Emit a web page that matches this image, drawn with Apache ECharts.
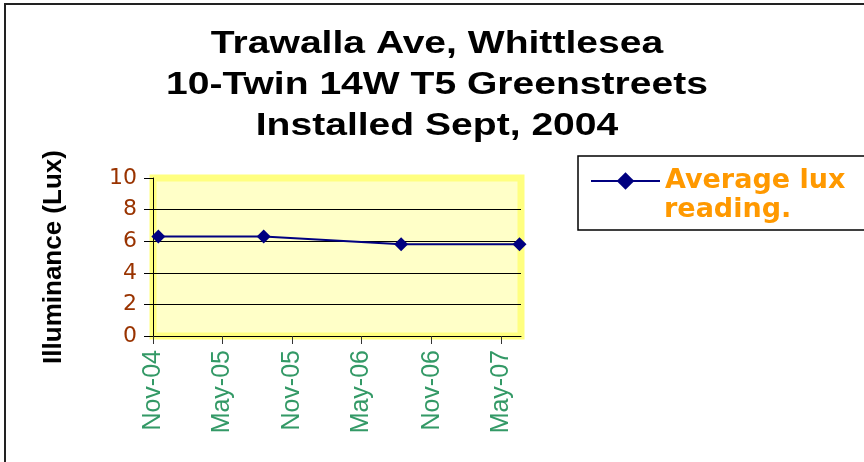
<!DOCTYPE html>
<html>
<head>
    <meta charset="utf-8">
    <title>Trawalla Ave, Whittlesea</title>
    <style>
        html, body { margin: 0; padding: 0; background: #fff; }
        #main { width: 864px; height: 462px; }
    </style>
</head>
<body>
<div id="main"></div>
<script src="https://cdn.jsdelivr.net/npm/echarts@6/dist/echarts.min.js"></script>
<script>
    // readings
    var readDates = ['2004-11-15', '2005-08-18', '2006-08-13', '2007-06-19'];
    var luxValues = [6.3, 6.3, 5.8, 5.8];

    // x axis ticks
    var tickDates = ['2004-11-01', '2005-05-01', '2005-11-01', '2006-05-01', '2006-11-01', '2007-05-01'];
    var tickLabels = ['Nov-04', 'May-05', 'Nov-05', 'May-06', 'Nov-06', 'May-07'];

    var seriesName = 'Average lux reading.';

    function toTime(s) {
        var p = s.split('-');
        return Date.UTC(+p[0], +p[1] - 1, +p[2]);
    }
    var tickTimes = tickDates.map(toTime);

    var myChart = echarts.init(document.getElementById('main'));

    var option = {
        backgroundColor: '#FFFFFF',
        animation: false,
        grid: {
            left: 153,
            top: 178,
            right: 343,
            bottom: 126,
            show: true,
            backgroundColor: '#FFFFC8',
            borderColor: '#FFFF80',
            borderWidth: 7
        },
        legend: {
            left: 590,
            top: 160,
            padding: 0,
            itemWidth: 69,
            itemHeight: 22,
            formatter: function () { return 'Average lux'; },
            textStyle: {
                fontFamily: 'DejaVu Sans',
                fontWeight: 'bold',
                fontSize: 27,
                lineHeight: 32,
                color: '#FF9900',
                padding: [0, 0, 10, 0]
            },
            data: [seriesName]
        },
        xAxis: {
            type: 'value',
            min: toTime('2004-11-01'),
            max: toTime('2007-06-23'),
            axisLine: { show: true, lineStyle: { color: '#000', width: 1 } },
            axisTick: {
                show: true,
                length: 8,
                customValues: tickTimes,
                lineStyle: { color: '#333' }
            },
            axisLabel: {
                customValues: tickTimes,
                rotate: 90,
                margin: 14,
                color: '#339966',
                fontFamily: 'Liberation Sans',
                fontSize: 25,
                formatter: function (v) {
                    var i = tickTimes.indexOf(v);
                    return i >= 0 ? tickLabels[i] : '';
                }
            },
            splitLine: { show: false }
        },
        yAxis: {
            type: 'value',
            min: 0,
            max: 10,
            interval: 2,
            name: 'Illuminance (Lux)',
            nameLocation: 'middle',
            nameRotate: 90,
            nameGap: 86,
            nameTextStyle: {
                fontFamily: 'Liberation Sans',
                fontWeight: 'bold',
                fontSize: 26,
                color: '#000'
            },
            axisLine: { show: true, lineStyle: { color: '#000', width: 1 } },
            axisTick: { show: true, length: 9, lineStyle: { color: '#000' } },
            axisLabel: {
                margin: 16,
                color: '#993300',
                fontFamily: 'DejaVu Sans',
                fontSize: 22
            },
            splitLine: {
                show: true,
                lineStyle: {
                    color: ['transparent', '#000', '#000', '#000', '#000', 'transparent'],
                    width: 1
                }
            }
        },
        graphic: [
            {
                // outer frame
                type: 'rect',
                z: -1,
                shape: { x: 5, y: 4, width: 900, height: 500 },
                style: { fill: null, stroke: '#222', lineWidth: 2 }
            },
            {
                // legend box
                type: 'rect',
                shape: { x: 578, y: 156, width: 300, height: 74 },
                style: { fill: null, stroke: '#000', lineWidth: 1.5 }
            },
            {
                type: 'text',
                x: 664,
                y: 210,
                style: {
                    text: 'reading.',
                    fontFamily: 'DejaVu Sans',
                    fontWeight: 'bold',
                    fontSize: 27,
                    fill: '#FF9900',
                    align: 'left',
                    verticalAlign: 'middle'
                }
            },
            {
                type: 'text',
                x: 437,
                y: 24,
                scaleX: 1.26,
                style: {
                    text: 'Trawalla Ave, Whittlesea\n10-Twin 14W T5 Greenstreets\nInstalled Sept, 2004',
                    fontFamily: 'Liberation Sans',
                    fontWeight: 'bold',
                    fontSize: 31,
                    lineHeight: 41,
                    fill: '#000',
                    align: 'center',
                    verticalAlign: 'top'
                }
            }
        ],
        series: [{
            name: seriesName,
            type: 'line',
            data: readDates.map(function (d, i) { return [toTime(d), luxValues[i]]; }),
            symbol: 'diamond',
            symbolSize: 14,
            color: '#000080',
            lineStyle: { color: '#000080', width: 2 },
            itemStyle: { color: '#000080' }
        }]
    };
    myChart.setOption(option);
</script>
</body>
</html>
